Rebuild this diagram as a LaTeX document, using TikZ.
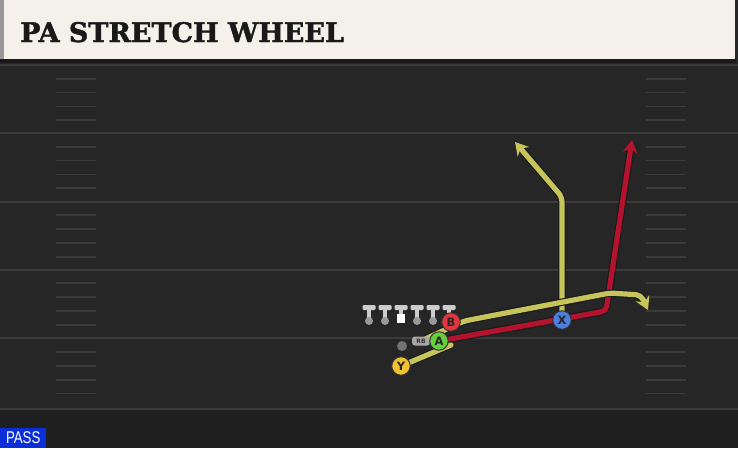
\documentclass[tikz,border=0pt]{standalone}
\usepackage{fontspec}
\newfontfamily\titlefont{DejaVu Serif}[BoldFeatures={FakeBold=1.5}]
\newfontfamily\labelfont{DejaVu Sans}
\newfontfamily\passfont{Liberation Sans}
\usetikzlibrary{calc,arrows.meta}
\pgfdeclarelayer{fieldlayer}
\pgfdeclarelayer{routelayer}
\pgfsetlayers{fieldlayer,routelayer,main}
\definecolor{field}{HTML}{262626}
\definecolor{fielddark}{HTML}{1F1F1F}
\definecolor{yardline}{HTML}{3B3B3B}
\definecolor{cream}{HTML}{F4F1EA}
\definecolor{routeyellow}{HTML}{C6C45A}
\definecolor{routered}{HTML}{B3132F}
\definecolor{xblue}{HTML}{4A80E2}
\definecolor{agreen}{HTML}{63D03B}
\definecolor{bred}{HTML}{E6343F}
\definecolor{yyellow}{HTML}{F0C230}
\definecolor{passblue}{HTML}{0A2FD8}
\def\hashleft{56}
\def\hashright{646}
\def\hashwdth{40}
\def\hashgap{13.8}
\def\barhalf{6.5}
\def\barheight{5}

\begin{document}
\begin{tikzpicture}[x=1pt,y=-1pt,
  route/.style={line width=5.2pt, line cap=round, line join=round, rounded corners=5pt,
    preaction={draw=black!90, line width=7.4pt}},
  yroute/.style={route, draw=routeyellow},
  rroute/.style={route, draw=routered},
  tip/.style={-{Stealth[length=13pt, width=15pt, inset=4.5pt]}},
  player/.style={circle, draw=black!80, line width=1pt, minimum size=18.5pt, inner sep=0pt,
    font=\labelfont\bfseries\fontsize{11.5}{11.5}\selectfont, text=black!85},
  hashmark/.style={draw=yardline, line width=1.7pt}]

\useasboundingbox (0,0) rectangle (738,448);

% FIELD
\begin{pgfonlayer}{fieldlayer}
\fill[field] (0,0) rectangle (738,448);
\fill[fielddark] (0,408) rectangle (738,448);
\foreach \yl in {65,133,201.5,269.5,338.3,408.7}
  \draw[yardline, line width=2pt] (0,\yl) -- (738,\yl);
\foreach \yl in {65,133,201.5,269.5,338.3}
  \foreach \k in {1,...,4}{
    \draw[hashmark] (\hashleft,\yl+\k*\hashgap) -- (\hashleft+\hashwdth,\yl+\k*\hashgap);
    \draw[hashmark] (\hashright,\yl+\k*\hashgap) -- (\hashright+\hashwdth,\yl+\k*\hashgap);
  }
\end{pgfonlayer}

% TITLE
\fill[black!90] (0,58) rectangle (736,63);
\fill[cream] (0,0) rectangle (735,59);
\fill[black!40] (0,0) rectangle (3.5,59);
\node[anchor=base west, inner sep=0pt, text=black!90,
  font=\titlefont\bfseries\fontsize{27}{27}\selectfont] (title) at (20,42) {PA STRETCH WHEEL};

% LINE
\foreach \ol/\px in {lt/369, lg/385, c/401, rg/417, rt/433, te/449}{
  \node[inner sep=0pt] (\ol) at (\px,305) {};
  \fill[black!20, rounded corners=1.2pt] ($(\ol)+(-\barhalf,0)$) rectangle ($(\ol)+(\barhalf,\barheight)$);
  \fill[black!20] ($(\ol)+(-2.2,\barheight)$) rectangle ($(\ol)+(2.2,14)$);
}
\foreach \ol in {lt, lg, rg, rt, te}
  \fill[black!40] ($(\ol)+(0,16)$) circle (4);
\fill[white] ($(c)+(-4.3,9)$) rectangle ($(c)+(4.3,17.5)$);

% BACKFIELD
\node[circle, fill=black!55, minimum size=10pt, inner sep=0pt] (qb) at (402,346) {};
\node[fill=black!35, rounded corners=3pt, minimum width=18pt, minimum height=9pt, inner sep=0pt,
  font=\labelfont\bfseries\fontsize{6}{6}\selectfont, text=black!80] (rb) at (421,341) {RB};
\node[player, fill=bred] (B) at (451,322) {B};
\node[player, fill=agreen] (A) at (439,341) {A};
\node[player, fill=yyellow] (Y) at (401,366) {Y};
\node[player, fill=xblue] (X) at (562,320) {X};

% ROUTES
\coordinate (yend) at (451,345);
\coordinate (xtip) at (515,142);
\coordinate (rtip) at (632,140);
\coordinate (wheeltip) at (648,310);
\begin{pgfonlayer}{routelayer}
\draw[yroute, tip] (X.center) -- (562,197) -- (xtip);
\draw[rroute, tip] (A.center) -- (606,311) -- (rtip);
\draw[yroute, tip] (rb.center) -- (464,321) -- (610,293) -- (641,295) -- (wheeltip);
\draw[yroute] (Y.center) -- (yend);
\end{pgfonlayer}

% PASS
\node[fill=passblue, anchor=south west, minimum width=46pt, minimum height=20pt, inner sep=0pt,
  text=white, font=\passfont\fontsize{17}{17}\selectfont] (pass) at (0,448) {\scalebox{0.78}[1]{PASS}};
\end{tikzpicture}
\end{document}
